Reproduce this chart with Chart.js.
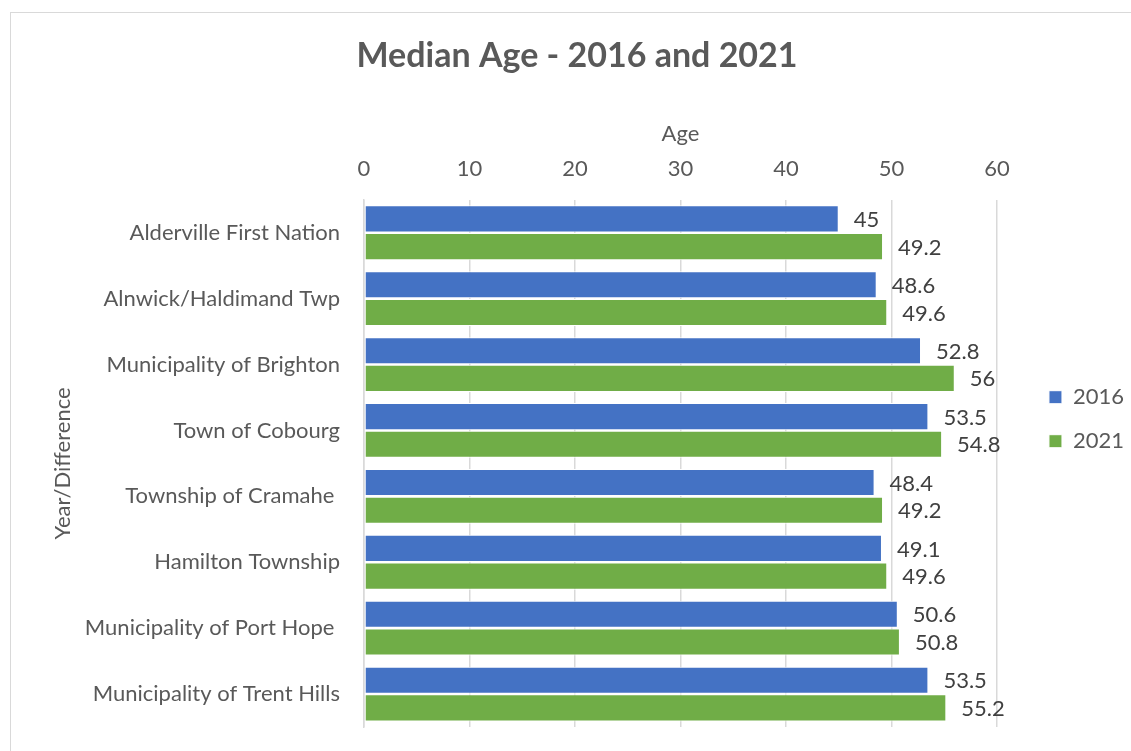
<!DOCTYPE html>
<html>
<head>
<meta charset="utf-8">
<script src="https://cdn.jsdelivr.net/npm/chart.js@4"></script>
<style>
  html, body { margin: 0; padding: 0; background: #fff; }
  #wrap { width: 1131px; height: 751px; }
</style>
</head>
<body>
<div id="wrap"><canvas id="graficoIdade"></canvas></div>
<script>
const categorias = ['Alderville First Nation', 'Alnwick/Haldimand Twp', 'Municipality of Brighton', 'Town of Cobourg',
    'Township of Cramahe ', 'Hamilton Township', 'Municipality of Port Hope ', 'Municipality of Trent Hills'];
const idade2016 = [45, 48.6, 52.8, 53.5, 48.4, 49.1, 50.6, 53.5];
const idade2021 = [49.2, 49.6, 56, 54.8, 49.2, 49.6, 50.8, 55.2];
const eixoMin = 0;
const eixoMax = 60;
const eixoPasso = 10;

const fonte = 'Lato, "Open Sans", sans-serif';
const cinza = '#595959';

// moldura clara em volta do gráfico
const moldura = {
    id: 'moldura',
    beforeDraw(chart) {
        const c = chart.ctx;
        c.save();
        c.strokeStyle = '#d9d9d9';
        c.lineWidth = 1;
        c.strokeRect(10.5, 12.5, 1300, 1000);
        c.restore();
    }
};

// legenda um pouco mais afastada do gráfico
const afastaLegenda = {
    id: 'afastaLegenda',
    afterLayout(chart) {
        chart.legend.left += 30;
        chart.legend.right += 30;
    }
};

// rótulos de valor à direita de cada barra
const rotulos = {
    id: 'rotulos',
    afterDatasetsDraw(chart) {
        const c = chart.ctx;
        c.save();
        c.font = '22px ' + fonte;
        c.fillStyle = '#404040';
        c.textAlign = 'left';
        c.textBaseline = 'middle';
        chart.data.datasets.forEach((ds, i) => {
            chart.getDatasetMeta(i).data.forEach((bar, j) => {
                c.fillText(String(ds.data[j]), bar.x + 15, bar.y + 1);
            });
        });
        c.restore();
    }
};

const ctxIdade = document.getElementById('graficoIdade').getContext('2d');
const graficoIdade = new Chart(ctxIdade, {
    type: 'bar',
    data: {
        labels: categorias,
        datasets: [{
            label: '2016',
            data: idade2016,
            backgroundColor: '#4472C4',
            borderColor: '#ffffff',
            borderWidth: 1,
            borderSkipped: false
        }, {
            label: '2021',
            data: idade2021,
            backgroundColor: '#70AD47',
            borderColor: '#ffffff',
            borderWidth: 1,
            borderSkipped: false
        }]
    },
    options: {
        indexAxis: 'y',
        responsive: true,
        maintainAspectRatio: false,
        animation: false,
        categoryPercentage: 0.84,
        barPercentage: 0.98,
        layout: {
            padding: { top: 15, left: 50, right: 27, bottom: 24 }
        },
        scales: {
            x: {
                position: 'top',
                min: eixoMin,
                max: eixoMax,
                ticks: {
                    stepSize: eixoPasso,
                    padding: 18,
                    color: cinza,
                    font: { family: fonte, size: 22 }
                },
                grid: { color: '#d9d9d9', lineWidth: 1.5, drawTicks: false },
                border: { display: false },
                title: {
                    display: true,
                    text: 'Age',
                    color: cinza,
                    font: { family: fonte, size: 22 },
                    padding: { top: 0, bottom: 12 }
                },
                afterFit(scale) {
                    scale.height = 79;
                }
            },
            y: {
                ticks: {
                    padding: 24,
                    color: cinza,
                    font: { family: fonte, size: 22 }
                },
                grid: { display: false, drawTicks: false },
                border: { display: true, color: '#d9d9d9', width: 1.5 },
                title: {
                    display: true,
                    text: 'Year/Difference',
                    color: cinza,
                    font: { family: fonte, size: 22 },
                    padding: 0
                },
                afterFit(scale) {
                    scale.width = 364 - 50;
                    scale.paddingTop = 0;
                    scale.paddingBottom = 0;
                }
            }
        },
        plugins: {
            title: {
                display: true,
                text: 'Median Age - 2016 and 2021',
                color: cinza,
                font: { family: fonte, size: 34, weight: 'bold' },
                padding: { top: 21, bottom: 44 }
            },
            legend: {
                position: 'right',
                align: 'start',
                fullSize: false,
                title: {
                    display: true,
                    text: ' ',
                    font: { family: fonte, size: 22 },
                    padding: { top: 138, bottom: 0 }
                },
                labels: {
                    boxWidth: 13,
                    boxHeight: 13,
                    padding: 22,
                    color: cinza,
                    font: { family: fonte, size: 22 }
                }
            },
            tooltip: { enabled: false }
        }
    },
    plugins: [moldura, afastaLegenda, rotulos]
});
</script>
</body>
</html>
